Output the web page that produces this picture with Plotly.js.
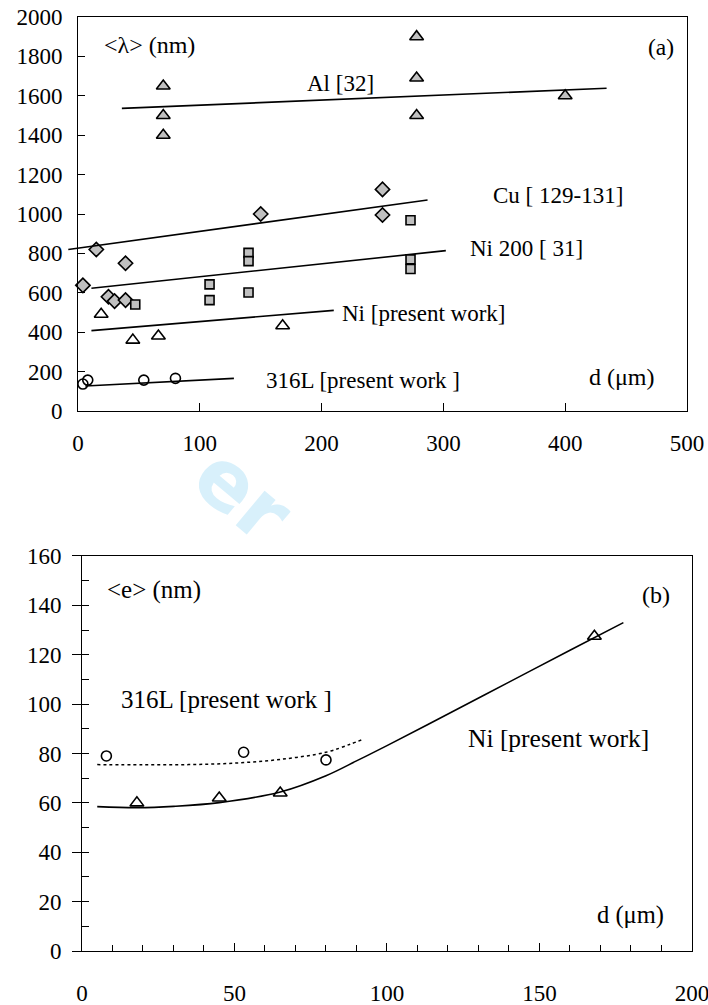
<!DOCTYPE html>
<html>
<head>
<meta charset="utf-8">
<script src="https://cdn.plot.ly/plotly-3.0.1.min.js"></script>
<style>
  html, body { margin: 0; padding: 0; background: #ffffff; }
  #chart { width: 708px; height: 1005px; }
  #chart .xaxislayer-above text,
  #chart .yaxislayer-above text {
    font-family: "Liberation Serif", "Times New Roman", serif !important;
  }
</style>
</head>
<body>
<div id="chart"></div>
<script>
// ---------- Panel (a): mean dislocation cell size <λ> vs grain size d ----------
const alD = [70, 70, 70, 278, 278, 278, 400];
const alLam = [1650, 1500, 1400, 1900, 1690, 1500, 1600];
const alFitD = [36, 434];
const alFitLam = [1536, 1638];

const cuD = [4, 15, 25, 30, 39, 39, 150, 250, 250];
const cuLam = [638, 820, 580, 558, 750, 563, 1000, 1125, 995];
const cuFitD = [-8, 287];
const cuFitLam = [820, 1071];

const ni200D = [47, 108, 108, 140, 140, 140, 273, 273, 273];
const ni200Lam = [541, 643, 563, 803, 761, 602, 968, 770, 721];
const ni200FitD = [11, 302];
const ni200FitLam = [623, 814];

const niD = [19, 45, 66, 168];
const niLam = [491, 360, 381, 433];
const niFitD = [11, 210];
const niFitLam = [408, 511];

const ssD = [4, 8, 54, 80];
const ssLam = [137, 157, 157, 166];
const ssFitD = [6, 128];
const ssFitLam = [127, 166];

const xTicksA = [0, 100, 200, 300, 400, 500];

// ---------- Panel (b): mean cell wall thickness <e> vs grain size d ----------
const ssEdD = [8, 53, 80];
const ssE = [79, 80.5, 77.4];
const ssCurveD = [5, 20, 35, 50, 65, 80, 88, 92];
const ssCurveE = [75.5, 75.4, 75.5, 76.1, 77.6, 80.5, 83.8, 85.7];

const niEdD = [18, 45, 65, 168];
const niE = [60, 62, 64, 127.5];
const niCurveD = [5, 18, 30, 45, 65, 80, 90, 100, 120, 140, 160, 177.5];
const niCurveE = [58.5, 58.1, 58.6, 60.1, 64.4, 71, 77, 83.2, 96, 108.9, 121.8, 133];

const xTicksB = [0, 50, 100, 150, 200];

const SERIF = '"Liberation Serif", "Times New Roman", serif';
const GREY = '#c0c0c0';

function fitLine(x, y, xa, ya) {
  return { x: x, y: y, xaxis: xa, yaxis: ya, type: 'scatter', mode: 'lines',
           line: { color: '#000', width: 1.6 }, hoverinfo: 'skip' };
}
function pts(x, y, xa, ya, symbol, fill, size) {
  return { x: x, y: y, xaxis: xa, yaxis: ya, type: 'scatter', mode: 'markers',
           cliponaxis: false,
           marker: { symbol: symbol, size: size, color: fill,
                     line: { color: '#000', width: 1.6 } } };
}

const traces = [
  fitLine(alFitD, alFitLam, 'x', 'y'),
  // the Cu fit starts just left of the y axis, so it sits on a hidden,
  // slightly wider copy of the panel (a) scales (same px per unit)
  fitLine(cuFitD, cuFitLam, 'x3', 'y3'),
  fitLine(ni200FitD, ni200FitLam, 'x', 'y'),
  fitLine(niFitD, niFitLam, 'x', 'y'),
  fitLine(ssFitD, ssFitLam, 'x', 'y'),
  pts(alD, alLam, 'x', 'y', 'triangle-up', GREY, 12),
  pts(cuD, cuLam, 'x', 'y', 'diamond', GREY, 11),
  pts(ni200D, ni200Lam, 'x', 'y', 'square', GREY, 9),
  pts(niD, niLam, 'x', 'y', 'triangle-up-open', '#000', 12),
  pts(ssD, ssLam, 'x', 'y', 'circle-open', '#000', 10),

  { x: ssCurveD, y: ssCurveE, xaxis: 'x2', yaxis: 'y2', type: 'scatter', mode: 'lines',
    line: { color: '#000', width: 1.5, dash: 'dot', shape: 'spline' }, hoverinfo: 'skip' },
  { x: niCurveD, y: niCurveE, xaxis: 'x2', yaxis: 'y2', type: 'scatter', mode: 'lines',
    line: { color: '#000', width: 1.6, shape: 'spline' }, hoverinfo: 'skip' },
  pts(ssEdD, ssE, 'x2', 'y2', 'circle-open', '#000', 10),
  pts(niEdD, niE, 'x2', 'y2', 'triangle-up-open', '#000', 12)
];

function axisBase() {
  return {
    showline: true, linecolor: '#000', linewidth: 1, mirror: true,
    showgrid: false, zeroline: false, tickcolor: '#000', tickwidth: 1,
    tickfont: { family: SERIF, size: 23, color: '#000' }, fixedrange: true
  };
}

function note(text, x, y, xa, ya, size) {
  return { text: text, x: x, y: y, xref: xa, yref: ya, xanchor: 'left', yanchor: 'middle',
           showarrow: false, font: { family: SERIF, size: size, color: '#000' } };
}

const domXA = [0.1102, 0.9703];
const domYA = [0.5910, 0.9831];
// 510 units at the panel (a) scale, ending at the same right edge
const domXA3 = [domXA[1] - (domXA[1] - domXA[0]) * 510 / 500, domXA[1]];

const layout = {
  width: 708, height: 1005,
  margin: { l: 0, r: 0, t: 0, b: 0 },
  paper_bgcolor: '#fff', plot_bgcolor: 'rgba(0,0,0,0)',
  font: { family: SERIF, color: '#000' },
  showlegend: false,
  xaxis: Object.assign(axisBase(), {
    domain: domXA, anchor: 'y', range: [0, 500],
    tickmode: 'array', tickvals: xTicksA, ticklabeloverflow: 'allow',
    ticks: 'inside', ticklen: 8, ticklabelstandoff: 11
  }),
  yaxis: Object.assign(axisBase(), {
    domain: domYA, anchor: 'x', range: [0, 2000],
    dtick: 200, tick0: 0, ticks: 'inside', ticklen: 7, ticklabelstandoff: 10
  }),
  xaxis3: { domain: domXA3, anchor: 'y3', range: [-10, 500], visible: false, fixedrange: true },
  yaxis3: { domain: domYA, anchor: 'x3', range: [0, 2000], visible: false, fixedrange: true },
  xaxis2: Object.assign(axisBase(), {
    domain: [0.1158, 0.9774], anchor: 'y2', range: [0, 200],
    tickmode: 'array', tickvals: xTicksB, ticklabeloverflow: 'allow',
    ticks: 'inside', ticklen: 8, ticklabelstandoff: 21,
    minor: { dtick: 10, tick0: 0, ticks: 'inside', ticklen: 6, tickcolor: '#000', tickwidth: 1 }
  }),
  yaxis2: Object.assign(axisBase(), {
    domain: [0.0537, 0.4468], anchor: 'x2', range: [0, 160],
    dtick: 20, tick0: 0, ticks: 'outside', ticklen: 9, ticklabelstandoff: 6,
    minor: { dtick: 10, tick0: 0, ticks: 'inside', ticklen: 7, tickcolor: '#000', tickwidth: 1 }
  }),
  annotations: [
    note('&lt;λ&gt; (nm)', 20, 1858, 'x', 'y', 24),
    note('Al [32]', 186, 1660, 'x', 'y', 23),
    note('(a)', 466, 1848, 'x', 'y', 23.5),
    note('Cu [ 129-131]', 339, 1096, 'x', 'y', 23),
    note('Ni 200 [ 31]', 320, 827, 'x', 'y', 23),
    note('Ni [present work]', 215, 497, 'x', 'y', 23),
    note('316L [present work ]', 153, 157, 'x', 'y', 23),
    note('d (μm)', 418, 173, 'x', 'y', 24),

    note('&lt;e&gt; (nm)', 7.6, 146.2, 'x2', 'y2', 25),
    note('(b)', 183, 144.2, 'x2', 'y2', 24),
    note('316L [present work ]', 12, 102, 'x2', 'y2', 25),
    note('Ni [present work]', 126, 85.9, 'x2', 'y2', 25.5),
    note('d (μm)', 168.3, 14.6, 'x2', 'y2', 24.5),

    { text: '<b>er</b>', x: 0.344, y: 0.508, xref: 'paper', yref: 'paper',
      xanchor: 'center', yanchor: 'middle', showarrow: false, textangle: 40,
      font: { family: '"DejaVu Sans", sans-serif', size: 82, color: '#d8f0fb' } }
  ]
};

Plotly.newPlot('chart', traces, layout, { displayModeBar: false, staticPlot: true });
</script>
</body>
</html>
